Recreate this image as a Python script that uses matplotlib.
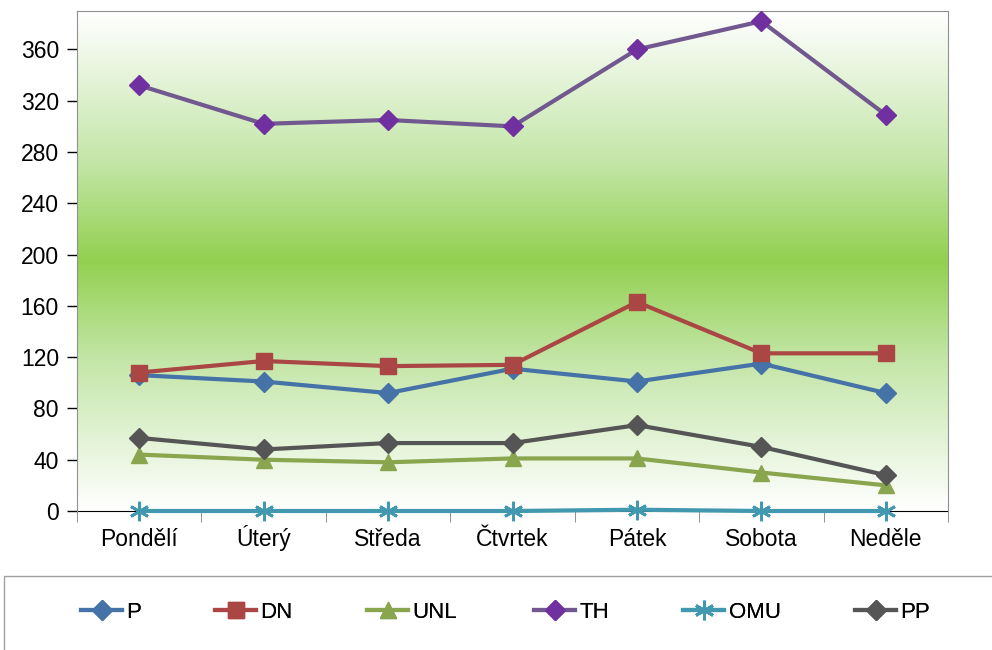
import numpy as np
import matplotlib
matplotlib.use("Agg")
import matplotlib.pyplot as plt
from matplotlib.colors import LinearSegmentedColormap
from matplotlib.patches import Rectangle

plt.rcParams['font.family'] = ['Liberation Sans', 'DejaVu Sans']

days = ["Pondělí", "Úterý", "Středa", "Čtvrtek", "Pátek", "Sobota", "Neděle"]
P = [106, 101, 92, 111, 101, 115, 92]
DN = [108, 117, 113, 114, 163, 123, 123]
UNL = [44, 40, 38, 41, 41, 30, 20]
TH = [332, 302, 305, 300, 360, 382, 309]
OMU = [0, 0, 0, 0, 1, 0, 0]
PP = [57, 48, 53, 53, 67, 50, 28]
yticks = [0, 40, 80, 120, 160, 200, 240, 280, 320, 360]

fig = plt.figure(figsize=(9.92, 6.5), dpi=100)
ax = fig.add_axes([77/992, 1-511/650, (948-77)/992, (511-11)/650])

# gradient background
cmap = LinearSegmentedColormap.from_list(
    "g", [(0, "#ffffff"), (0.3, "#c4e6a8"), (0.5, "#92d050"), (0.7, "#c4e6a8"), (1, "#ffffff")])
grad = np.linspace(0, 1, 256).reshape(-1, 1)
ax.imshow(grad, aspect='auto', cmap=cmap, extent=[0, 1, 0, 1],
          transform=ax.transAxes, zorder=0, vmin=0, vmax=1)

x = np.arange(len(days))
series = [
    ("P", P, "#4572A7", "#4572A7", "D", 10.5),
    ("DN", DN, "#AA4643", "#AA4643", "s", 12),
    ("UNL", UNL, "#89A54E", "#89A54E", "^", 12),
    ("TH", TH, "#71588F", "#7030A0", "D", 10.5),
    ("OMU", OMU, "#4198AF", "#4198AF", (6, 2, 0), 14),
    ("PP", PP, "#555555", "#555555", "D", 10.5),
]
handles = []
for name, vals, lc, mc, mk, ms in series:
    h, = ax.plot(x, vals, color=lc, lw=3, marker=mk, markersize=ms,
                 markerfacecolor=mc, markeredgecolor=mc,
                 markeredgewidth=2 if mk == (6, 2, 0) else 1,
                 label=name, zorder=3, clip_on=False)
    handles.append(h)

ax.set_xlim(-0.5, 6.5)
ax.set_ylim(0, 390)
ax.set_yticks(yticks)
ax.set_yticklabels([str(v) for v in yticks], fontsize=16.5)
ax.set_xticks(x)
ax.set_xticklabels(days, fontsize=16.5, va='baseline')
ax.tick_params(axis='x', length=0, pad=25)
ax.set_xticks(np.arange(-0.5, 7, 1), minor=True)
ax.tick_params(axis='x', which='minor', length=8, direction='out', color='#808080')
ax.tick_params(axis='y', length=7, direction='out', width=1, pad=6)

for s in ['top', 'right', 'left']:
    ax.spines[s].set_color('#909090')
ax.spines['bottom'].set_color('black')
ax.spines['bottom'].set_zorder(2)

# legend frame
fig.patches.append(Rectangle((4/992, -0.05), 1.0, 1-576/650+0.05, transform=fig.transFigure,
                             fill=False, edgecolor='#a0a0a0', lw=1))
# legend entries placed individually (handle start x in px)
legfont = dict(family=['Liberation Sans', 'DejaVu Sans'], size=16)
starts = [81, 215, 367, 534, 683, 855]
for h, sx in zip(handles, starts):
    lg = fig.legend(handles=[h], loc='center left', bbox_to_anchor=(sx/992, 1-612/650),
                    frameon=False, prop=legfont, handlelength=1.85,
                    handletextpad=0.2, borderpad=0, borderaxespad=0)
    fig.add_artist(lg)

fig.savefig("out.png", dpi=100)
